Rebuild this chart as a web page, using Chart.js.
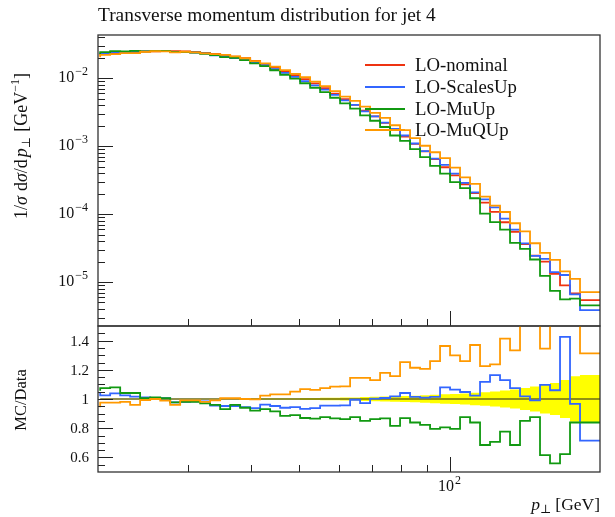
<!DOCTYPE html>
<html>
<head>
<meta charset="utf-8">
<script src="https://cdn.jsdelivr.net/npm/chart.js@4.4.0/dist/chart.umd.min.js"></script>
<style>
  html, body { margin: 0; padding: 0; background: #fff; }
  #wrap { position: relative; width: 615px; height: 517px; }
  canvas { position: absolute; left: 0; }
  #histo { top: 0; }
  #ratio { top: 320px; }
</style>
</head>
<body>
<div id="wrap">
  <canvas id="histo" width="615" height="334"></canvas>
  <canvas id="ratio" width="615" height="197"></canvas>
</div>
<script>
// bin edges in GeV (log binning, 20 -> 200)
const edges = [20, 20.94, 21.93, 22.96, 24.04, 25.18, 26.37, 27.61, 28.91, 30.27,
  31.70, 33.19, 34.76, 36.40, 38.11, 39.91, 41.79, 43.76, 45.82, 47.98,
  50.24, 52.61, 55.09, 57.68, 60.40, 63.25, 66.23, 69.35, 72.62, 76.04,
  79.62, 83.37, 87.30, 91.42, 95.73, 100.24, 104.96, 109.91, 115.09, 120.51,
  126.19, 132.14, 138.36, 144.88, 151.71, 158.87, 166.36, 174.20, 182.41, 191.01, 200];

// LO-nominal, 1/sigma dsigma/dpT
const nominal = [0.02163, 0.02265, 0.02333, 0.02388, 0.02438, 0.02477, 0.02500, 0.02512, 0.02506, 0.02483,
  0.02438, 0.02371, 0.02291, 0.02198, 0.02089, 0.01972, 0.01799, 0.01626, 0.01435, 0.01274,
  0.01109, 0.00971, 0.00839, 0.00716, 0.00596, 0.00495, 0.00407, 0.00335, 0.00275, 0.00221,
  0.00176, 0.00138, 0.00108, 8.41e-4, 6.46e-4, 4.90e-4, 3.72e-4, 2.75e-4, 2.04e-4, 1.48e-4,
  1.08e-4, 7.59e-5, 5.50e-5, 3.63e-5, 2.45e-5, 2.00e-5, 1.32e-5, 8.9e-6, 6.8e-6, 5.4e-6];

// ratios to nominal
const ratioScalesUp = [1.046, 1.025, 1.039, 1.025, 1.016, 1.011, 1.007, 1.005, 0.977, 0.98,
  0.984, 0.984, 0.954, 0.952, 0.952, 0.945, 0.938, 0.961, 0.952, 0.94,
  0.945, 0.933, 0.938, 0.954, 0.954, 0.956, 0.995, 0.972, 1.002, 1.007,
  1.018, 1.041, 1.014, 1.009, 1.014, 1.08, 1.064, 1.048, 1.023, 1.117,
  1.163, 1.129, 1.074, 1.018, 0.991, 1.097, 1.06, 1.425, 0.966, 0.715];
const ratioMuUp = [1.057, 1.074, 1.08, 1.041, 1.041, 1.005, 1.011, 1.005, 0.977, 0.98,
  0.98, 0.97, 0.96, 0.93, 0.96, 0.94, 0.92, 0.93, 0.915, 0.885,
  0.89, 0.87, 0.865, 0.876, 0.867, 0.862, 0.876, 0.85, 0.862, 0.867,
  0.816, 0.869, 0.839, 0.823, 0.795, 0.805, 0.795, 0.876, 0.839, 0.685,
  0.706, 0.777, 0.685, 0.85, 0.876, 0.616, 0.559, 0.623, 0.839, 0.839];
const ratioMuQUp = [0.943, 0.975, 0.975, 0.98, 0.96, 0.993, 1.0, 0.989, 0.96, 0.99,
  0.99, 0.98, 0.99, 1.005, 1.005, 1.0, 0.998, 1.023, 1.032, 1.032,
  1.05, 1.067, 1.062, 1.074, 1.085, 1.087, 1.145, 1.145, 1.129, 1.179,
  1.156, 1.253, 1.214, 1.207, 1.26, 1.363, 1.299, 1.26, 1.37, 1.225,
  1.237, 1.414, 1.333, 1.53, 1.52, 1.345, 1.61, 1.61, 1.64, 1.313];
// stat. uncertainty band of the nominal (half width)
const bandHalf = [0.004, 0.004, 0.004, 0.004, 0.004, 0.004, 0.004, 0.004, 0.004, 0.004,
  0.004, 0.004, 0.004, 0.004, 0.004, 0.004, 0.005, 0.005, 0.005, 0.005,
  0.005, 0.006, 0.007, 0.008, 0.009, 0.01, 0.011, 0.013, 0.015, 0.017,
  0.019, 0.021, 0.023, 0.026, 0.029, 0.032, 0.035, 0.038, 0.042, 0.046,
  0.051, 0.058, 0.065, 0.075, 0.085, 0.1, 0.11, 0.13, 0.155, 0.165];

const seriesNames = ['LO-nominal', 'LO-ScalesUp', 'LO-MuUp', 'LO-MuQUp'];
const seriesColors = ['#EE3311', '#3366FF', '#119911', '#FF9900'];
const seriesRatios = [null, ratioScalesUp, ratioMuUp, ratioMuQUp];

const xMinorTicks = [30, 40, 50, 60, 70, 80, 90];
const xMajorTicks = [100];
const yDecades = [1e-2, 1e-3, 1e-4, 1e-5];
const yDecadeExp = ['\u22122', '\u22123', '\u22124', '\u22125'];
const ratioTicks = [0.6, 0.8, 1, 1.2, 1.4];
const ratioLabels = ['0.6', '0.8', '1', '1.2', '1.4'];

const SERIF = '"Liberation Serif", "DejaVu Serif", serif';
const fnt = (size, style) => (style ? style + ' ' : '') + size + 'px ' + SERIF;

function steps(vals) {
    const pts = vals.map((v, i) => ({ x: edges[i], y: v }));
    pts.push({ x: edges[vals.length], y: vals[vals.length - 1] });
    return pts;
}

function richWidth(ctx, parts) {
    let w = 0;
    parts.forEach(p => { ctx.font = p.f; w += ctx.measureText(p.t).width + (p.gap || 0); });
    return w;
}
function drawRich(ctx, parts, x, y) {
    parts.forEach(p => {
        ctx.font = p.f;
        ctx.fillText(p.t, x, y + (p.dy || 0));
        x += ctx.measureText(p.t).width + (p.gap || 0);
    });
}

function tenTo(exp) {
    return [{ t: '10', f: fnt(16), gap: 1 }, { t: exp, f: fnt(12), dy: -7 }];
}

function drawXTicks(ctx, x, a) {
    ctx.strokeStyle = '#222';
    ctx.lineWidth = 1;
    xMinorTicks.concat(xMajorTicks).forEach(v => {
        const px = Math.round(x.getPixelForValue(v)) + 0.5;
        const len = xMajorTicks.includes(v) ? 15 : 7;
        ctx.beginPath();
        ctx.moveTo(px, a.bottom);
        ctx.lineTo(px, a.bottom - len);
        ctx.stroke();
    });
}

const histoDecor = {
    id: 'histoDecor',
    afterDraw(chart) {
        const { ctx, chartArea: a, scales: { x, y } } = chart;
        ctx.save();
        ctx.fillStyle = '#111';
        ctx.textBaseline = 'alphabetic';
        ctx.textAlign = 'left';

        // title
        const title = 'Transverse momentum distribution for jet 4';
        ctx.font = fnt(16);
        const ts = 16 * 338 / ctx.measureText(title).width;
        ctx.font = fnt(ts);
        ctx.fillText(title, 98, 21);

        // y ticks
        ctx.strokeStyle = '#222';
        ctx.lineWidth = 1;
        for (let e = -6; e <= -1; e++) {
            for (let m = 1; m <= 9; m++) {
                const v = m * Math.pow(10, e);
                if (v < y.min || v > y.max) continue;
                const py = Math.round(y.getPixelForValue(v)) + 0.5;
                ctx.beginPath();
                ctx.moveTo(a.left, py);
                ctx.lineTo(a.left + (m === 1 ? 15 : 7), py);
                ctx.stroke();
            }
        }
        drawXTicks(ctx, x, a);

        // frame
        ctx.strokeStyle = '#333';
        ctx.lineWidth = 1.3;
        ctx.strokeRect(a.left, a.top, a.right - a.left, a.bottom - a.top);

        // y labels
        yDecades.forEach((v, i) => {
            const parts = tenTo(yDecadeExp[i]);
            const w = richWidth(ctx, parts);
            drawRich(ctx, parts, 88 - w, y.getPixelForValue(v) + 4);
        });

        // y title
        ctx.translate(27, 146);
        ctx.rotate(-Math.PI / 2);
        const yt = [
            { t: '1/', f: fnt(18) }, { t: '\u03c3', f: fnt(18, 'italic'), gap: 5 },
            { t: 'd', f: fnt(18) }, { t: '\u03c3', f: fnt(18, 'italic') },
            { t: '/d', f: fnt(18), gap: 2 }, { t: 'p', f: fnt(18, 'italic') },
            { t: '\u22a5', f: fnt(12), dy: 3, gap: 5 },
            { t: '[GeV', f: fnt(18) }, { t: '\u22121', f: fnt(12), dy: -8 },
            { t: ']', f: fnt(18) }
        ];
        drawRich(ctx, yt, -richWidth(ctx, yt) / 2, 0);
        ctx.restore();

        // legend
        ctx.save();
        ctx.font = fnt(16);
        const ls = 16 * 102 / ctx.measureText('LO-ScalesUp').width;
        const ly = [65, 87, 109, 130];
        seriesNames.forEach((n, i) => {
            ctx.strokeStyle = seriesColors[i];
            ctx.lineWidth = 1.8;
            ctx.beginPath();
            ctx.moveTo(365, ly[i]);
            ctx.lineTo(405, ly[i]);
            ctx.stroke();
            ctx.fillStyle = '#111';
            ctx.font = fnt(ls);
            ctx.fillText(n, 415, ly[i] + 6);
        });
        ctx.restore();
    }
};

const ratioDecor = {
    id: 'ratioDecor',
    afterDraw(chart) {
        const { ctx, chartArea: a, scales: { x, y } } = chart;
        ctx.save();
        ctx.fillStyle = '#111';
        ctx.strokeStyle = '#222';
        ctx.lineWidth = 1;
        for (let v = 0.55; v < 1.5; v += 0.05) {
            const r = Math.round(v * 100) / 100;
            const major = ratioTicks.some(t => Math.abs(t - r) < 1e-6);
            const py = Math.round(y.getPixelForValue(r)) + 0.5;
            ctx.beginPath();
            ctx.moveTo(a.left, py);
            ctx.lineTo(a.left + (major ? 15 : 7), py);
            ctx.stroke();
        }
        drawXTicks(ctx, x, a);
        ctx.strokeStyle = '#333';
        ctx.lineWidth = 1.3;
        ctx.strokeRect(a.left, a.top, a.right - a.left, a.bottom - a.top);

        ctx.textBaseline = 'alphabetic';
        ctx.font = fnt(15);
        ctx.textAlign = 'right';
        ratioTicks.forEach((v, i) => {
            ctx.fillText(ratioLabels[i], 89, y.getPixelForValue(v) + 5);
        });
        ctx.textAlign = 'left';

        // x labels
        xMajorTicks.forEach(v => {
            const parts = tenTo('2');
            const w = richWidth(ctx, parts);
            drawRich(ctx, parts, x.getPixelForValue(v) - w / 2, a.bottom + 19);
        });
        const xt = [
            { t: 'p', f: fnt(17.5, 'italic') }, { t: '\u22a5', f: fnt(12), dy: 3, gap: 4 },
            { t: '[GeV]', f: fnt(17.5) }
        ];
        drawRich(ctx, xt, 600 - richWidth(ctx, xt), a.bottom + 38);

        // y title
        ctx.translate(26, 400 - 320);
        ctx.rotate(-Math.PI / 2);
        ctx.font = fnt(16.5);
        ctx.textAlign = 'center';
        ctx.fillText('MC/Data', 0, 0);
        ctx.restore();
    }
};

const lineDs = (label, vals, color, order) => ({
    label: label,
    data: steps(vals),
    borderColor: color,
    backgroundColor: color,
    borderWidth: 1.8,
    stepped: 'after',
    pointRadius: 0,
    fill: false,
    order: order
});

const histoSets = seriesNames.map((n, i) => {
    const vals = seriesRatios[i] ? nominal.map((v, k) => v * seriesRatios[i][k]) : nominal;
    return lineDs(n, vals, seriesColors[i], 4 - i);
});

const xScale = { type: 'logarithmic', min: 19.8, max: 200, display: false };

new Chart(document.getElementById('histo'), {
    type: 'line',
    data: { datasets: histoSets },
    options: {
        responsive: false,
        animation: false,
        devicePixelRatio: 1,
        parsing: false,
        layout: { padding: { left: 98, right: 15, top: 35, bottom: 8 } },
        scales: {
            x: xScale,
            y: { type: 'logarithmic', min: 2.25e-6, max: 0.0434, display: false }
        },
        plugins: { legend: { display: false }, tooltip: { enabled: false } }
    },
    plugins: [histoDecor]
});

const ratioSets = [
    {
        label: 'band-lo',
        data: steps(bandHalf.map(h => 1 - h)),
        borderWidth: 0, pointRadius: 0, stepped: 'after', fill: false, order: 10
    },
    {
        label: 'band-hi',
        data: steps(bandHalf.map(h => 1 + h)),
        borderWidth: 0, pointRadius: 0, stepped: 'after',
        fill: '-1', backgroundColor: '#FFFF00', order: 9
    },
    lineDs('ref', nominal.map(() => 1), '#222', 5)
];
ratioSets[2].borderWidth = 1.2;
[1, 2, 3].forEach(i => ratioSets.push(lineDs(seriesNames[i], seriesRatios[i], seriesColors[i], 4 - i)));

new Chart(document.getElementById('ratio'), {
    type: 'line',
    data: { datasets: ratioSets },
    options: {
        responsive: false,
        animation: false,
        devicePixelRatio: 1,
        parsing: false,
        layout: { padding: { left: 98, right: 15, top: 6, bottom: 45 } },
        scales: {
            x: xScale,
            y: { type: 'linear', min: 0.5, max: 1.5, display: false }
        },
        plugins: { legend: { display: false }, tooltip: { enabled: false }, filler: { propagate: false } }
    },
    plugins: [ratioDecor]
});
</script>
</body>
</html>
